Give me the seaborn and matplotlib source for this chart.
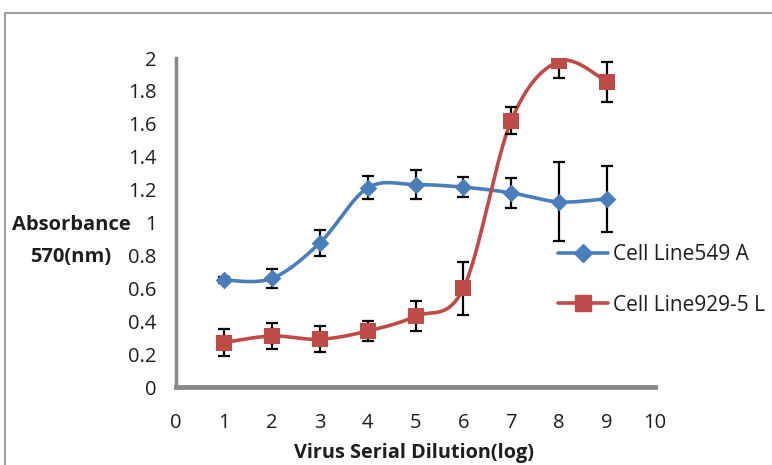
import numpy as np
import pandas as pd
import matplotlib
matplotlib.use("Agg")
import matplotlib.pyplot as plt
import seaborn as sns
from matplotlib.patches import Rectangle
from matplotlib.lines import Line2D

# ---- data ----
dilution = [1, 2, 3, 4, 5, 6, 7, 8, 9]
a549_mean = [0.65, 0.66, 0.875, 1.21, 1.23, 1.215, 1.18, 1.125, 1.145]
a549_err = [0.02, 0.06, 0.08, 0.07, 0.09, 0.06, 0.09, 0.24, 0.20]
l929_mean = [0.27, 0.31, 0.29, 0.34, 0.43, 0.60, 1.62, 1.98, 1.855]
l929_err = [0.08, 0.08, 0.08, 0.06, 0.09, 0.16, 0.08, 0.10, 0.12]
series_names = ["Cell Line549 A", "Cell Line929-5 L"]
x_ticks = list(range(0, 11))
y_ticks = [0, 0.2, 0.4, 0.6, 0.8, 1, 1.2, 1.4, 1.6, 1.8, 2]
y_tick_labels = ["0", "0.2", "0.4", "0.6", "0.8", "1", "1.2", "1.4", "1.6", "1.8", "2"]

BLUE = "#4a7ebb"
RED = "#be4b48"
AXIS = "#898989"
TEXT = "#1e1e1e"


def smooth(xs, ys, n=30):
    """Excel-style smoothed line (Catmull-Rom Bezier)."""
    xs = np.asarray(xs, float)
    ys = np.asarray(ys, float)
    P = np.column_stack([xs, ys])
    out = []
    for i in range(len(P) - 1):
        p0 = P[i - 1] if i > 0 else P[i]
        p1 = P[i]
        p2 = P[i + 1]
        p3 = P[i + 2] if i + 2 < len(P) else P[i + 1]
        c1 = p1 + (p2 - p0) / 6.0
        c2 = p2 - (p3 - p1) / 6.0
        t = np.linspace(0, 1, n)[:, None]
        seg = ((1 - t) ** 3) * p1 + 3 * ((1 - t) ** 2) * t * c1 + 3 * (1 - t) * t ** 2 * c2 + t ** 3 * p2
        out.append(seg if i == 0 else seg[1:])
    s = np.vstack(out)
    return s[:, 0], s[:, 1]


sns.set_style("white")
plt.rcParams["font.family"] = ["Open Sans", "DejaVu Sans"]

fig = plt.figure(figsize=(7.72, 4.65), dpi=100)
ax = fig.add_axes([176 / 772, 1 - 387 / 465, (655 - 176) / 772, (387 - 58) / 465])

df = pd.DataFrame({"x": dilution * 2,
                   "y": a549_mean + l929_mean,
                   "err": a549_err + l929_err,
                   "series": [series_names[0]] * len(dilution) + [series_names[1]] * len(dilution)})

for name, color, marker, ms in [(series_names[0], BLUE, "D", 9), (series_names[1], RED, "s", 11)]:
    sub = df[df.series == name]
    sx, sy = smooth(sub.x.values, sub.y.values)
    sns.lineplot(x=sx, y=sy, ax=ax, color=color, lw=2.6, sort=False, zorder=2)
    ax.errorbar(sub.x, sub.y, yerr=sub.err, fmt="none", ecolor="black",
                elinewidth=1.6, capsize=4.5, capthick=1.6, zorder=3)
    sns.scatterplot(data=sub, x="x", y="y", ax=ax, marker=marker, s=ms ** 2,
                    color=color, edgecolor=color, linewidth=0, zorder=4, legend=False)

ax.set_xlim(0, 10)
ax.set_ylim(0, 2)
ax.set_xticks(x_ticks)
ax.set_xticklabels([str(v) for v in x_ticks])
ax.set_yticks(y_ticks)
ax.set_yticklabels(y_tick_labels)
ax.tick_params(axis="both", labelsize=14.5, colors=AXIS, labelcolor=TEXT,
               length=3, width=2, direction="out")
ax.tick_params(axis="x", pad=16)
ax.tick_params(axis="y", pad=11)
for side in ["top", "right"]:
    ax.spines[side].set_visible(False)
ax.spines["left"].set_color(AXIS)
ax.spines["left"].set_linewidth(2.5)
ax.spines["bottom"].set_color(AXIS)
ax.spines["bottom"].set_linewidth(3.5)
ax.set_xlabel("")
ax.set_ylabel("")

fig.text(71 / 772, 1 - 241 / 465, "Absorbance\n570(nm)", ha="center", va="center",
         fontsize=14.5, fontweight="bold", color=TEXT, linespacing=1.75)
fig.text(414 / 772, 1 - 453 / 465, "Virus Serial Dilution(log)", ha="center", va="center",
         fontsize=14.3, fontweight="bold", color=TEXT)

handles = [Line2D([0], [0], color=BLUE, lw=2.6, marker="D", ms=9),
           Line2D([0], [0], color=RED, lw=2.6, marker="s", ms=11)]
leg = fig.legend(handles, series_names, loc="center left",
                 bbox_to_anchor=(558 / 772, 1 - 280 / 465), frameon=False,
                 fontsize=15, handlelength=2.4, handletextpad=0.25, labelspacing=1.4,
                 borderaxespad=0, borderpad=0)
for t in leg.get_texts():
    t.set_color(TEXT)

fig.patches.append(Rectangle((5 / 772, -0.1), 1.2, 1 - 13 / 465 + 0.1, transform=fig.transFigure,
                             fill=False, edgecolor="#8c8c8c", lw=1.2, figure=fig))

fig.savefig("out.png", dpi=100)
